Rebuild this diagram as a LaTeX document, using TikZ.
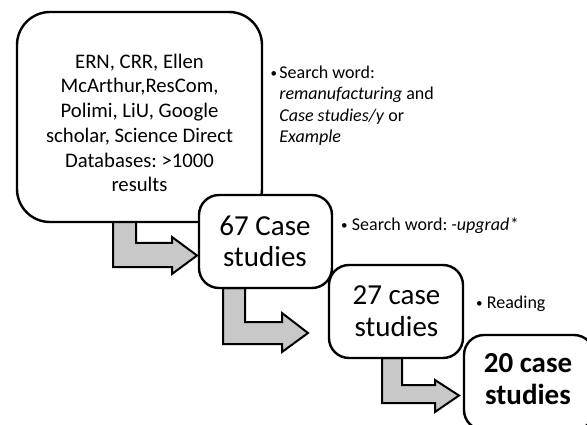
\documentclass[tikz,border=0pt]{standalone}
\usepackage{fontspec}
\setmainfont{Carlito}
\frenchspacing
\definecolor{arrowgray}{RGB}{200,200,200}
\newcommand{\smallbul}[1]{\makebox[#1][l]{\raisebox{1.2pt}{\fontsize{13}{13}\selectfont\textbullet}}}
\begin{document}
\frenchspacing
\begin{tikzpicture}[x=1pt,y=-1pt,
  box/.style={draw, line width=2.4pt, fill=white, inner sep=0pt},
  bent/.style={draw, line width=2pt, fill=arrowgray, line join=miter},
  boxtext/.style={inner sep=0pt, anchor=base},
  note/.style={inner sep=0pt, anchor=base west}]
\useasboundingbox (0,0) rectangle (587,425);
\clip (0,0) rectangle (587,425);
% bent arrows (drawn beneath the boxes)
\draw[bent] (113,222) -- (113,267) -- (172,267) -- (172,274) -- (197,255.5)
  -- (172,237) -- (172,243) -- (136,243) -- (136,222) -- cycle;
\draw[bent] (223,288) -- (223,344) -- (282,344) -- (282,352) -- (308,333)
  -- (282,313) -- (282,322) -- (245,322) -- (245,288) -- cycle;
\draw[bent] (382,358) -- (382,403) -- (435,403) -- (435,412) -- (459,395.5)
  -- (435,380) -- (435,385) -- (402,385) -- (402,358) -- cycle;
% boxes
\node[box, rounded corners=33pt, minimum width=245pt, minimum height=210pt] (b1) at (139.5,117) {};
\node[box, rounded corners=20pt, minimum width=133pt, minimum height=93pt] (b2) at (265.5,241.5) {};
\node[box, rounded corners=20pt, minimum width=134pt, minimum height=93pt] (b3) at (396,311.5) {};
\node[box, rounded corners=20pt, minimum width=130pt, minimum height=95pt] (b4) at (529,382.5) {};
% box texts
\node[boxtext] (t1) at (139.5,68.3) {\fontsize{20.7}{24.7}\selectfont
  \begin{tabular}[t]{@{}c@{}}ERN, CRR, Ellen\\ McArthur,ResCom,\\ Polimi, LiU, Google\\ scholar, Science Direct\\ Databases: >1000\\ results\end{tabular}};
\node[boxtext] (t2) at (265,236) {\fontsize{29}{30.7}\selectfont
  \begin{tabular}[t]{@{}c@{}}67 Case\\ studies\end{tabular}};
\node[boxtext] (t3) at (396.5,305) {\fontsize{29}{31.7}\selectfont
  \begin{tabular}[t]{@{}c@{}}27 case\\ studies\end{tabular}};
\node[boxtext] (t4) at (528,372.7) {\fontsize{29}{32.3}\selectfont\bfseries
  \begin{tabular}[t]{@{}c@{}}20 case\\ studies\end{tabular}};
% notes
\node[note] (n1) at (270.5,78.3) {\fontsize{18}{21.5}\selectfont
  \begin{tabular}[t]{@{}l@{}l@{}}\smallbul{8.7pt} & Search word:\\ & \textit{remanufacturing} and\\ & \textit{Case studies/y} or\\ & \textit{Example}\end{tabular}};
\node[note] (n2) at (341,231) {\fontsize{18}{21.5}\selectfont
  \begin{tabular}[t]{@{}l@{}l@{}}\smallbul{10.7pt} & Search word: \textit{-upgrad*}\end{tabular}};
\node[note] (n3) at (476,308.3) {\fontsize{18}{21.5}\selectfont
  \begin{tabular}[t]{@{}l@{}l@{}}\smallbul{10.7pt} & Reading\end{tabular}};
\end{tikzpicture}
\end{document}
